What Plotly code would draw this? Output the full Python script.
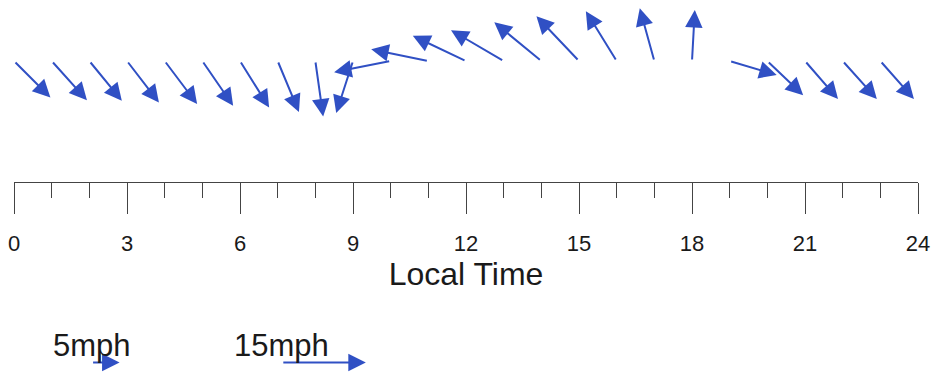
import plotly.graph_objects as go

# ---- data ----
hours = list(range(24))
# wind components in mph (u = toward east/right, v = toward north/up)
u_mph = [6.5, 6.3, 5.8, 5.7, 5.8, 5.5, 5.2, 3.8, 1.4, -3.0, -10.1, -10.2,
         -9.5, -9.4, -8.4, -7.6, -5.5, -2.6, 0.5, 8.4, 6.4, 5.9, 6.1, 6.0]
v_mph = [-6.5, -7.0, -7.1, -7.4, -7.7, -8.0, -8.3, -9.1, -9.9, -9.3, -2.0, 2.1,
         4.5, 5.5, 6.9, 8.0, 8.9, 9.4, 9.1, -2.5, -6.1, -6.8, -6.8, -6.8]
tick_major = [0, 3, 6, 9, 12, 15, 18, 21, 24]
tick_minor = list(range(25))
legend_speeds = [5, 15]
legend_labels = ["5mph", "15mph"]
legend_hours = [2.06, 7.11]

# ---- layout constants ----
W, H = 935, 377
ML, MR = 14, 17
PX_PER_HOUR = (W - ML - MR) / 24.0
PX_PER_MPH = 5.6
HOURS_PER_MPH = PX_PER_MPH / PX_PER_HOUR
BASE_PX = 61          # pixel row of arrow tails
AXIS_PX = 182         # pixel row of time axis
LEG_PX = 362.5        # pixel row of legend arrows
LEGTXT_PX = 345
y_top = BASE_PX / PX_PER_MPH
y_bot = -(H - BASE_PX) / PX_PER_MPH
leg_y = (BASE_PX - LEG_PX) / PX_PER_MPH
legtxt_y = (BASE_PX - LEGTXT_PX) / PX_PER_MPH

BLUE = "#3050c4"
FONT = "Liberation Sans, Arial, sans-serif"

fig = go.Figure()
fig.add_trace(go.Scatter(x=[0, 24], y=[0, 0], mode="markers",
                         marker=dict(opacity=0), hoverinfo="skip", showlegend=False))

annotations = []
for h, u, v in zip(hours, u_mph, v_mph):
    annotations.append(dict(
        x=h + u * HOURS_PER_MPH, y=v, ax=h, ay=0,
        xref="x", yref="y", axref="x", ayref="y",
        showarrow=True, arrowhead=2, arrowsize=1.75, arrowwidth=2,
        arrowcolor=BLUE, text="", standoff=0, startstandoff=0))

for s, lab, lh in zip(legend_speeds, legend_labels, legend_hours):
    annotations.append(dict(
        x=lh + s * HOURS_PER_MPH, y=leg_y, ax=lh, ay=leg_y,
        xref="x", yref="y", axref="x", ayref="y",
        showarrow=True, arrowhead=2, arrowsize=1.75, arrowwidth=2,
        arrowcolor=BLUE, text=""))
    annotations.append(dict(
        x=lh, y=legtxt_y, xref="x", yref="y", showarrow=False,
        text=lab, font=dict(family=FONT, size=31, color="#1a1a1a"),
        xanchor="center", yanchor="middle"))

fig.update_layout(
    template="none",
    width=W, height=H,
    margin=dict(l=ML, r=MR, t=0, b=0, pad=0),
    paper_bgcolor="white", plot_bgcolor="white",
    showlegend=False,
    annotations=annotations,
    xaxis=dict(
        range=[0, 24], domain=[0, 1], anchor="free",
        position=1 - AXIS_PX / H, side="bottom",
        showline=True, linecolor="#444", linewidth=1,
        showgrid=False, zeroline=False, automargin=False,
        ticks="outside", tickvals=tick_major, ticklen=31, tickwidth=1,
        tickcolor="#444", ticklabelstandoff=11,
        tickfont=dict(family=FONT, size=22, color="#1a1a1a"),
        minor=dict(tickvals=tick_minor, ticks="outside", ticklen=15,
                   tickwidth=1, tickcolor="#444", showgrid=False),
        title=dict(text="Local Time", standoff=3,
                   font=dict(family=FONT, size=32, color="#1a1a1a")),
    ),
    yaxis=dict(range=[y_bot, y_top], visible=False, automargin=False,
               showgrid=False, zeroline=False),
)

fig.write_html("out.html")
